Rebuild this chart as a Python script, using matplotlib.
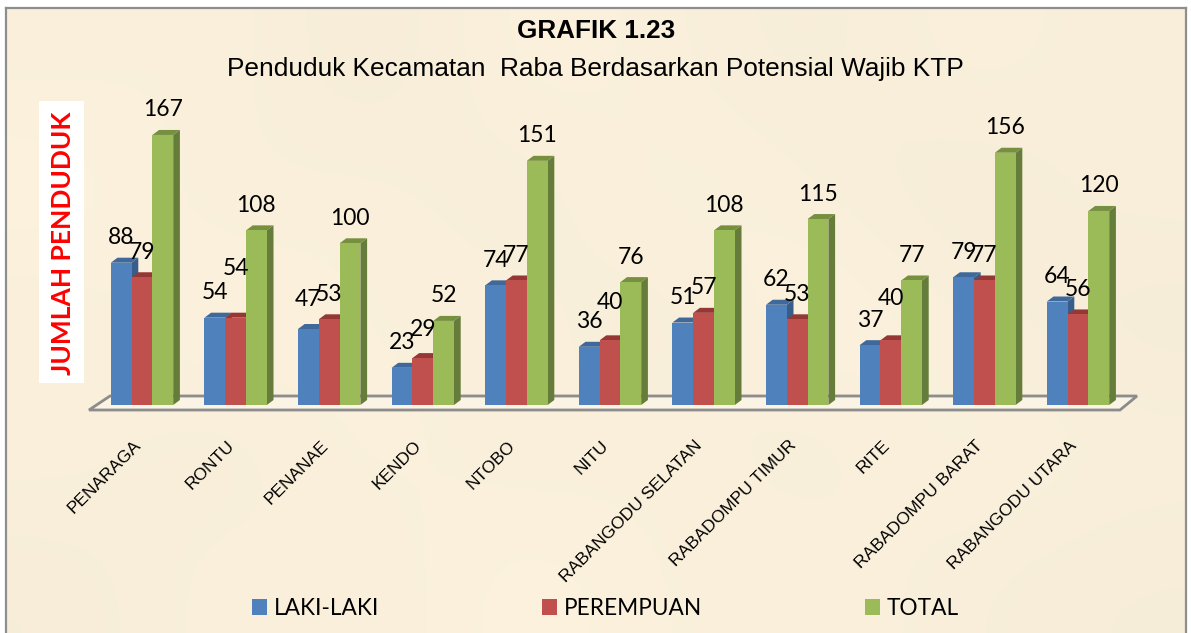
import numpy as np
import matplotlib
matplotlib.use('Agg')
import matplotlib.pyplot as plt
from matplotlib.patches import Polygon, Rectangle
from matplotlib.transforms import ScaledTranslation

kecamatan = ['PENARAGA', 'RONTU', 'PENANAE', 'KENDO', 'NTOBO', 'NITU', 'RABANGODU SELATAN',
             'RABADOMPU TIMUR', 'RITE', 'RABADOMPU BARAT', 'RABANGODU UTARA']
laki = [88, 54, 47, 23, 74, 36, 51, 62, 37, 79, 64]
perempuan = [79, 54, 53, 29, 77, 40, 57, 53, 40, 77, 56]
total = [167, 108, 100, 52, 151, 76, 108, 115, 77, 156, 120]

W, H = 1191, 633
arial = ['Liberation Sans', 'DejaVu Sans']
label_font = ['Lato', 'DejaVu Sans']

fig = plt.figure(figsize=(W / 100, H / 100), dpi=100, facecolor='white')

# parchment background, soft blotches
bg = fig.add_axes([6 / W, 0, (1186 - 6) / W, (H - 8) / H], zorder=0)
shade = np.array([
    [.985, .99, .97, .995, .985, .975, .99, .98],
    [1.0, .98, .99, .975, .995, .985, .97, .985],
    [.98, 1.0, .985, .99, .975, 1.0, .985, .97],
    [.99, .975, .995, .98, .99, .975, .995, .985],
    [.975, .99, .98, 1.0, .985, .99, .98, .975],
])
base = np.array([253, 243, 222]) / 255
bg.imshow(shade[:, :, None] * base, aspect='auto', interpolation='bicubic')
bg.set_xticks([])
bg.set_yticks([])
for s in bg.spines.values():
    s.set_color('#8E8E8E')
    s.set_linewidth(1.6)
bg.spines['bottom'].set_visible(False)

# main axes, 1 category = 93.6 px, 1 person = 1.617 px
ax = fig.add_axes([90 / W, (H - 410) / H, 1050 / W, 320 / H], zorder=1)
px_x = 93.6
px_y = 1.617
ax.set_xlim((90 - 142) / px_x, (1140 - 142) / px_x)
ax.set_ylim(-5 / px_y, 315 / px_y)
ax.patch.set_alpha(0)
for s in ax.spines.values():
    s.set_visible(False)
ax.set_yticks([])

# floor
fx = lambda p: (p - 142) / px_x
fy = lambda p: (405 - p) / px_y
ax.add_patch(Polygon([(fx(89), fy(410)), (fx(110), fy(396)), (fx(1137), fy(396)), (fx(1120), fy(410))],
                     closed=True, facecolor='#FBF3E4', edgecolor='#8C8C8C', lw=2, clip_on=False, zorder=1))

x = np.arange(len(kecamatan))
w = 20.8 / px_x
dx = 6.7 / px_x
dy = 5 / px_y
series = [
    ('LAKI-LAKI', laki, -w, '#4F81BD', '#385D8A', '#40699B'),
    ('PEREMPUAN', perempuan, 0, '#C0504D', '#8E3B39', '#953735'),
    ('TOTAL', total, w, '#9BBB59', '#667C3A', '#76903F'),
]
# labels moved by hand in the original chart
extra = {('PEREMPUAN', 1): 24, ('PEREMPUAN', 5): 13, ('PEREMPUAN', 8): 17, ('LAKI-LAKI', 2): 5, ('PEREMPUAN', 3): 4}

handles = []
z = 2
for name, vals, off, col, side, top in series:
    bars = ax.bar(x + off, vals, w, color=col, label=name, zorder=z + 2)
    handles.append(bars)
    for i, v in enumerate(vals):
        l = x[i] + off - w / 2
        r = l + w
        ax.add_patch(Polygon([(r, 0), (r + dx, dy), (r + dx, v + dy), (r, v)], facecolor=side, lw=0, zorder=z + 1))
        ax.add_patch(Polygon([(l, v), (l + dx, v + dy), (r + dx, v + dy), (r, v)], facecolor=top, lw=0, zorder=z + 1))
        ax.annotate(str(v), (x[i] + off, v), xytext=(0, (25 + extra.get((name, i), 0)) * 0.72),
                    textcoords='offset points', ha='center', va='center', fontsize=16.5,
                    family=label_font, color='black', zorder=20, annotation_clip=False)
    z += 3

ax.set_xticks(x)
ax.set_xticklabels(kecamatan, rotation=45, ha='right', rotation_mode='anchor', fontsize=12.5, family=arial)
ax.tick_params(axis='x', length=0, pad=20)
shift = ScaledTranslation(-9 / 100, 0, fig.dpi_scale_trans)
for t in ax.get_xticklabels():
    t.set_transform(t.get_transform() + shift)

fig.text(596 / W, 1 - 31 / H, 'GRAFIK 1.23', ha='center', va='center', fontsize=18.8, fontweight='bold', family=arial, zorder=5)
fig.text(595 / W, 1 - 69 / H, 'Penduduk Kecamatan  Raba Berdasarkan Potensial Wajib KTP', ha='center', va='center',
         fontsize=18.9, family=arial, zorder=5)

# y label on white box
fig.add_artist(Rectangle((39 / W, 1 - 383 / H), 45 / W, 282 / H, transform=fig.transFigure, facecolor='white', lw=0, zorder=5))
fig.text(63 / W, 1 - 243 / H, 'JUMLAH PENDUDUK', rotation=90, ha='center', va='center', color='#FF0000',
         fontsize=19, fontweight='bold', family=label_font, zorder=6)

fig.legend(handles=handles, loc='lower left', bbox_to_anchor=(252 / W, 0.022), ncols=3, frameon=False,
           prop={'family': label_font, 'size': 16.3}, handlelength=0.68, handleheight=0.68,
           handletextpad=0.27, columnspacing=7.2, borderaxespad=0, borderpad=0)

fig.savefig('out.png', dpi=100)
